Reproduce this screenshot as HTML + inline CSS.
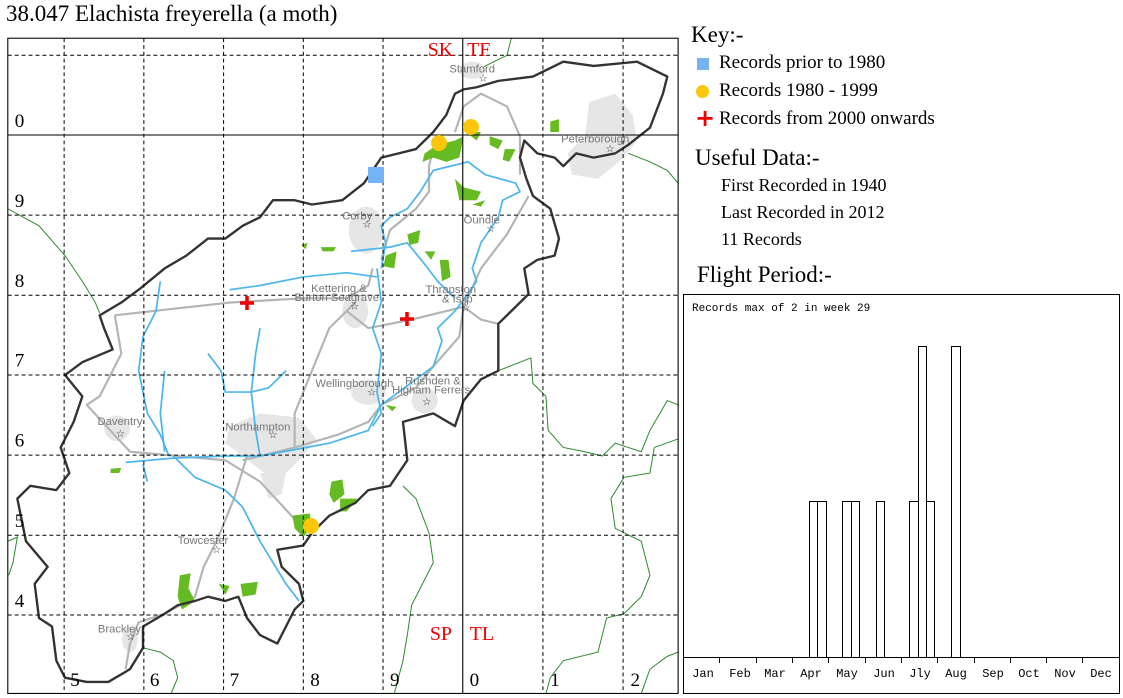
<!DOCTYPE html>
<html><head><meta charset="utf-8"><style>
body{margin:0;background:#fff;width:1123px;height:698px;overflow:hidden;position:relative;font-family:"Liberation Serif",serif}
.t{position:absolute;white-space:nowrap;color:#000}
</style></head><body>
<div class="t" style="left:6px;top:1px;font-size:23px">38.047 Elachista freyerella (a moth)</div>
<div class="t" style="left:691px;top:22px;font-size:23px">Key:-</div>
<div style="position:absolute;left:697px;top:58px;width:12px;height:12px;background:#74b3f5"></div>
<div class="t" style="left:719px;top:52px;font-size:19px">Records prior to 1980</div>
<div style="position:absolute;left:696px;top:85px;width:13px;height:13px;border-radius:50%;background:#fcc60a"></div>
<div class="t" style="left:719px;top:80px;font-size:19px">Records 1980 - 1999</div>
<div class="t" style="left:695px;top:104px;font-size:24px;color:#e00;font-weight:bold;font-family:'DejaVu Sans',sans-serif">+</div>
<div class="t" style="left:719px;top:108px;font-size:19px">Records from 2000 onwards</div>
<div class="t" style="left:695px;top:145px;font-size:23px">Useful Data:-</div>
<div class="t" style="left:721px;top:175px;font-size:18px">First Recorded in 1940</div>
<div class="t" style="left:721px;top:202px;font-size:18px">Last Recorded in 2012</div>
<div class="t" style="left:721px;top:229px;font-size:18px">11 Records</div>
<div class="t" style="left:697px;top:262px;font-size:23px">Flight Period:-</div>

<svg width="1123" height="698" style="position:absolute;left:0;top:0">
<g fill="none" stroke="#000" stroke-width="1">
<rect x="683.5" y="294.5" width="436" height="399"/>
<line x1="683" y1="657.5" x2="1120" y2="657.5"/>
<path d="M719.5 657v6M756.5 657v6M792.5 657v6M828.5 657v6M865.5 657v6M901.5 657v6M937.5 657v6M974.5 657v6M1010.5 657v6M1046.5 657v6M1082.5 657v6"/>
<rect x="809.5" y="501.5" width="8" height="156"/>
<rect x="817.5" y="501.5" width="9" height="156"/>
<rect x="842.5" y="501.5" width="9" height="156"/>
<rect x="851.5" y="501.5" width="8" height="156"/>
<rect x="876.5" y="501.5" width="8" height="156"/>
<rect x="909.5" y="501.5" width="9" height="156"/>
<rect x="918.5" y="346.5" width="8" height="311"/>
<rect x="926.5" y="501.5" width="8" height="156"/>
<rect x="951.5" y="346.5" width="9" height="311"/>
</g>
<text x="692" y="311" font-family="Liberation Mono,monospace" font-size="11">Records max of 2 in week 29</text>
<g font-family="Liberation Mono,monospace" font-size="12" text-anchor="middle">
<text x="703" y="677">Jan</text><text x="740" y="677">Feb</text><text x="775" y="677">Mar</text><text x="811" y="677">Apr</text><text x="847" y="677">May</text><text x="884" y="677">Jun</text><text x="920" y="677">Jly</text><text x="956" y="677">Aug</text><text x="993" y="677">Sep</text><text x="1029" y="677">Oct</text><text x="1065" y="677">Nov</text><text x="1101" y="677">Dec</text>
</g>

<g transform="translate(0,29.7) scale(0.4333,0.4263)">
<g fill="none" stroke="#2a8a2a" stroke-width="2.3">
<path d="M18 420 L90 460 L150 530 L190 590 L220 640 L230 665"/>
<path d="M1180 20 L1170 60 L1130 80 L1070 110"/>
<path d="M1565 360 L1540 330 L1500 310 L1450 290"/>
<path d="M1150 800 L1200 780 L1225 770 L1230 830 L1260 860 L1265 940 L1300 980 L1350 990 L1390 1000 L1420 970 L1480 990 L1500 940 L1540 870 L1565 880"/>
<path d="M1565 960 L1510 980 L1500 1040 L1440 1050 L1410 1100 L1420 1170 L1480 1200 L1500 1280 L1480 1330 L1440 1370 L1400 1380 L1380 1460 L1300 1480 L1270 1520 L1260 1557"/>
<path d="M930 1070 L960 1100 L990 1180 L1000 1250 L980 1290 L950 1350 L940 1420 L930 1480 L910 1557"/>
<path d="M18 1200 L40 1190 L30 1250 L20 1280"/>
<path d="M330 1450 L370 1460 L400 1480 L410 1520 L395 1557"/>
<path d="M1480 1557 L1500 1500 L1540 1470 L1565 1460"/>
</g>
<g fill="#e6e6e6">
<path d="M1360 170 L1420 150 L1460 200 L1470 260 L1440 300 L1380 350 L1320 340 L1310 290 L1350 250 Z"/>
<ellipse cx="845" cy="470" rx="40" ry="55"/>
<ellipse cx="820" cy="660" rx="30" ry="40"/>
<ellipse cx="850" cy="850" rx="40" ry="30"/>
<ellipse cx="980" cy="870" rx="30" ry="30"/>
<path d="M530 930 L600 900 L690 910 L730 960 L700 1000 L660 1040 L610 1040 L560 1000 L520 970 Z"/>
<path d="M600 1040 L660 1040 L650 1090 L620 1100 Z"/>
<ellipse cx="270" cy="935" rx="30" ry="30"/>
<ellipse cx="300" cy="1430" rx="18" ry="30"/>
<ellipse cx="1090" cy="95" rx="30" ry="20"/>
</g>
<g fill="none" stroke="#b4b4b4" stroke-width="5" stroke-linejoin="round">
<path d="M265 670 L530 640 L700 630 L800 630 L850 600 L860 560"/>
<path d="M800 660 L850 700 L950 680 L1070 650 L1110 680 L1150 690"/>
<path d="M1070 650 L1110 560 L1170 480 L1220 390"/>
<path d="M1070 650 L1060 720 L1000 790 L960 840 L880 880 L850 920 L780 950 L680 980 L560 1010"/>
<path d="M265 670 L280 760 L230 860 L200 880 L300 990 L520 1010 L600 1060 L700 1170"/>
<path d="M820 640 L760 700 L720 800 L680 900 L680 980"/>
<path d="M570 1000 L540 1100 L500 1200 L470 1260 L450 1330 L380 1370 L320 1390 L300 1440 L290 1500"/>
<path d="M1000 280 L990 320 L990 380 L960 420 L900 470 L880 540"/>
<path d="M1050 240 L1070 180 L1110 150 L1170 180 L1200 250 L1200 340"/>
</g>
<g fill="none" stroke="#4cb6ec" stroke-width="4" stroke-linejoin="round">
<path d="M290 1015 L400 1005 L520 1000 L600 1000 L680 985 L760 970 L850 940 L880 880 L960 820 L1000 790 L1020 730 L1010 700 L1050 660 L1080 620 L1100 590 L1090 560 L1110 500 L1130 470 L1150 440 L1160 400 L1200 380 L1190 360 L1120 340 L1080 310 L1040 320 L1000 330 L970 380 L940 420 L900 440 L880 460 L890 500 L880 560"/>
<path d="M870 560 L880 640 L860 700 L880 760 L870 850 L880 900 L860 930"/>
<path d="M530 610 L600 600 L700 580 L800 570 L870 580"/>
<path d="M810 520 L900 510 L940 500 L980 550 L1010 590 L1050 630"/>
<path d="M400 1000 L450 1050 L520 1080 L560 1120 L600 1200 L630 1250 L660 1300 L690 1340"/>
<path d="M370 590 L360 660 L330 720 L320 800 L340 900 L370 950 L390 1000"/>
<path d="M380 800 L370 900 L380 990"/>
<path d="M600 700 L590 760 L580 850 L590 940 L600 1000"/>
<path d="M480 760 L510 800 L520 850 L580 850 L620 840 L660 800"/>
<path d="M330 1020 L340 1060"/>
</g>
<g fill="#66bb22">
<path d="M980 290 L1010 270 L1050 260 L1070 250 L1060 300 L1030 310 L1000 300 L975 310 Z"/>
<path d="M1075 240 L1110 240 L1100 260 Z"/>
<path d="M1130 250 L1160 260 L1150 280 L1130 270 Z"/>
<path d="M1165 280 L1190 280 L1175 310 L1160 305 Z"/>
<path d="M1270 215 L1290 210 L1290 240 L1270 240 Z"/>
<path d="M1050 350 L1070 370 L1110 380 L1100 400 L1060 400 Z"/>
<path d="M1090 410 L1120 400 L1110 415 Z"/>
<path d="M940 480 L970 470 L965 500 L945 505 Z"/>
<path d="M890 530 L915 520 L910 560 L885 555 Z"/>
<path d="M980 520 L1005 520 L995 540 Z"/>
<path d="M1015 540 L1035 540 L1040 580 L1020 590 Z"/>
<path d="M740 510 L775 510 L770 520 L745 520 Z"/>
<path d="M695 505 L710 500 L705 515 Z"/>
<path d="M890 880 L915 885 L905 895 Z"/>
<path d="M765 1060 L790 1055 L795 1090 L770 1110 L760 1090 Z"/>
<path d="M785 1100 L825 1100 L800 1130 L785 1130 Z"/>
<path d="M675 1140 L715 1135 L720 1165 L700 1190 L680 1170 Z"/>
<path d="M255 1030 L280 1028 L275 1040 L255 1040 Z"/>
<path d="M415 1280 L440 1275 L435 1310 L450 1340 L420 1360 L410 1330 Z"/>
<path d="M505 1300 L530 1305 L520 1325 Z"/>
<path d="M555 1300 L595 1295 L590 1325 L560 1330 Z"/>
</g>
<path fill="none" stroke="#333" stroke-width="5.5" stroke-linejoin="round" d="M1070 140 L1100 135 L1150 120 L1230 110 L1300 75 L1370 85 L1470 75 L1540 110 L1530 150 L1500 230 L1450 270 L1420 290 L1370 300 L1330 290 L1300 320 L1280 300 L1240 290 L1210 260 L1200 300 L1215 350 L1230 390 L1270 420 L1290 490 L1280 530 L1240 540 L1210 560 L1220 620 L1150 690 L1150 800 L1110 820 L1070 870 L1050 930 L1000 900 L930 920 L940 1010 L900 1070 L850 1080 L820 1110 L760 1140 L720 1180 L700 1210 L640 1220 L650 1260 L670 1280 L690 1300 L700 1340 L680 1360 L660 1400 L640 1440 L600 1420 L570 1380 L550 1330 L520 1340 L480 1330 L450 1340 L410 1350 L380 1370 L330 1400 L330 1450 L300 1500 L250 1530 L200 1530 L150 1520 L130 1480 L120 1400 L90 1380 L80 1300 L110 1260 L60 1200 L40 1100 L70 1070 L130 1080 L160 1040 L140 980 L170 920 L190 860 L150 810 L190 780 L260 750 L240 700 L230 670 L280 640 L320 610 L380 560 L430 530 L480 490 L520 490 L560 460 L600 440 L630 400 L680 400 L720 410 L790 400 L840 360 L880 300 L920 290 L960 280 L1000 240 L1030 200 L1050 150 Z"/>
<g stroke="#000" stroke-width="2.3" stroke-dasharray="9,7" fill="none">
<path d="M148 20V1557M332 20V1557M516 20V1557M700 20V1557M884 20V1557M1253 20V1557M1438 20V1557"/>
<path d="M18 60H1565M18 435H1565M18 623H1565M18 810H1565M18 998H1565M18 1186H1565M18 1373H1565"/>
</g>
<g stroke="#000" stroke-width="2.5" fill="none">
<path d="M1068 20V1557M18 247H1565"/>
<rect x="18" y="20" width="1547" height="1537"/>
</g>
<g font-family="Liberation Sans,sans-serif" font-size="26" fill="#777">
<text x="1037" y="100">Stamford</text><text x="1295" y="265">Peterborough</text>
<text x="790" y="445">Corby</text><text x="1070" y="455">Oundle</text>
<text x="718" y="615">Kettering &amp;</text><text x="680" y="637">Burton Seagrave</text>
<text x="982" y="618">Thrapston</text><text x="1020" y="640">&amp; Islip</text>
<text x="728" y="838">Wellingborough</text><text x="935" y="832">Rushden &amp;</text><text x="905" y="853">Higham Ferrers</text>
<text x="225" y="927">Daventry</text><text x="520" y="940">Northampton</text>
<text x="410" y="1207">Towcester</text><text x="226" y="1414">Brackley</text>
</g>
<g font-family="DejaVu Sans,sans-serif" font-size="24" fill="#333" text-anchor="middle">
<text x="1115" y="122">☆</text><text x="1408" y="287">☆</text><text x="847" y="464">☆</text><text x="1133" y="474">☆</text>
<text x="818" y="656">☆</text><text x="1075" y="660">☆</text><text x="858" y="858">☆</text><text x="985" y="880">☆</text>
<text x="278" y="956">☆</text><text x="630" y="958">☆</text><text x="500" y="1228">☆</text><text x="302" y="1432">☆</text>
</g>
<g font-family="Liberation Serif,serif" font-size="44" fill="#000">
<text x="34" y="228">0</text><text x="34" y="416">9</text><text x="34" y="604">8</text><text x="34" y="790">7</text><text x="34" y="978">6</text><text x="34" y="1166">5</text><text x="34" y="1354">4</text>
<text x="162" y="1540">5</text><text x="346" y="1540">6</text><text x="530" y="1540">7</text><text x="716" y="1540">8</text><text x="900" y="1540">9</text><text x="1084" y="1540">0</text><text x="1270" y="1540">1</text><text x="1455" y="1540">2</text>
</g>
<g font-family="Liberation Serif,serif" font-size="46" fill="#e00">
<text x="987" y="62">SK</text><text x="1078" y="62">TF</text>
<text x="992" y="1432">SP</text><text x="1084" y="1432">TL</text>
</g>
</g>
<rect x="368" y="167" width="16" height="16" fill="#74b3f5"/>
<circle cx="439" cy="143" r="8" fill="#fcc60a"/>
<circle cx="471" cy="127" r="8" fill="#fcc60a"/>
<circle cx="311" cy="526" r="8" fill="#fcc60a"/>
<path d="M247 296v14M240 303h14M407 312v14M400 319h14" stroke="#e00" stroke-width="3.5"/>
</svg>
</body></html>
